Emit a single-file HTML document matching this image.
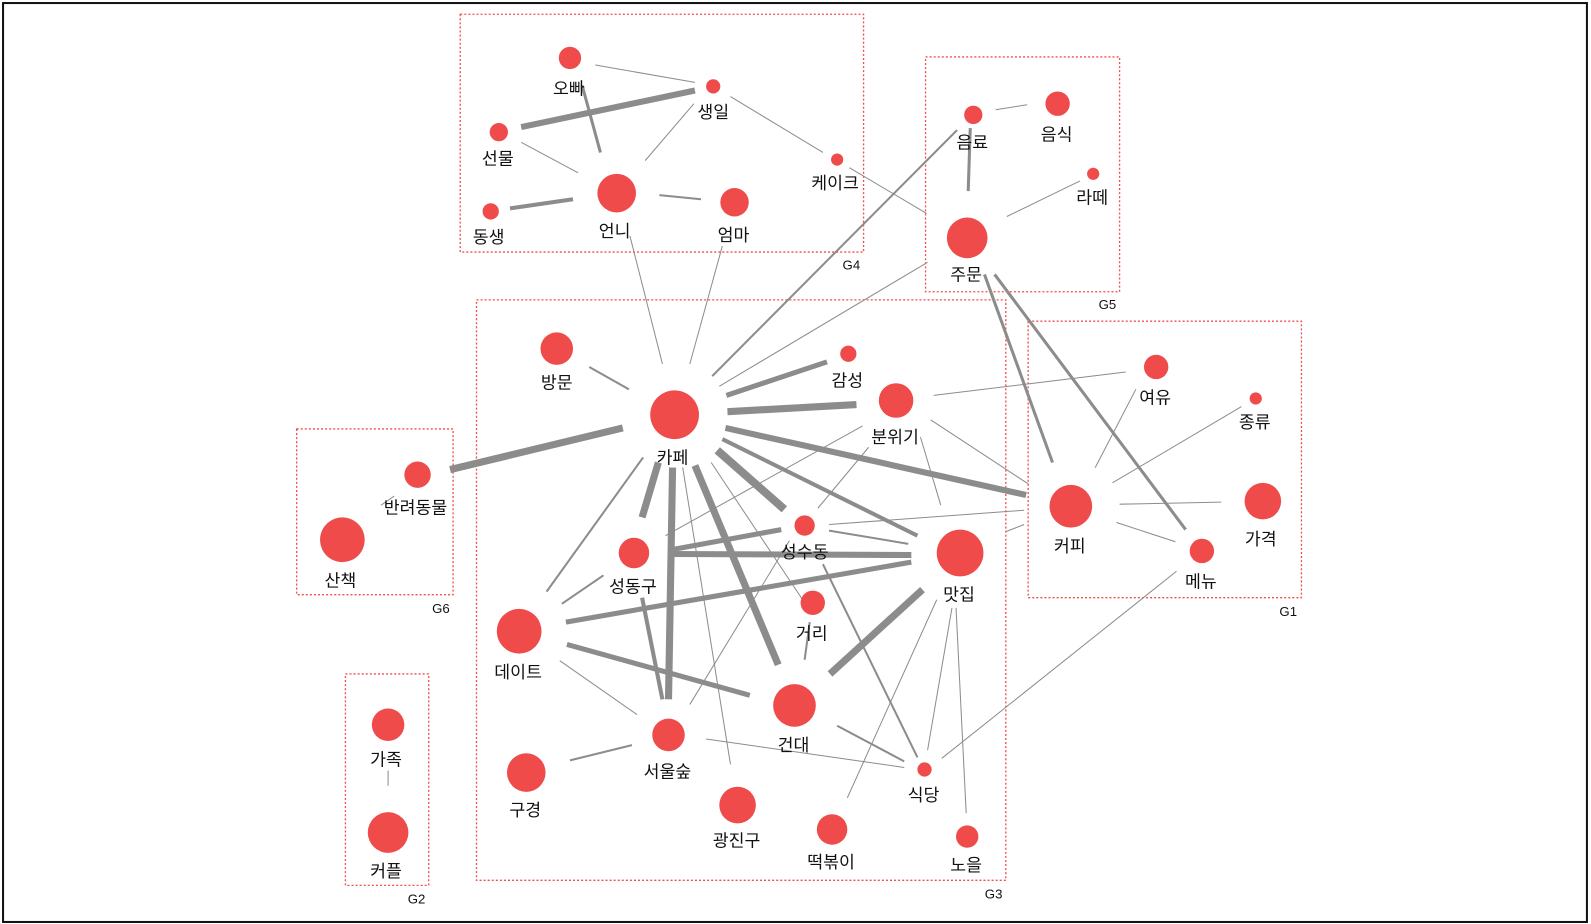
<!DOCTYPE html>
<html><head><meta charset="utf-8"><style>
html,body{margin:0;padding:0;background:#fff;}
svg{display:block;}
text{font-family:"Liberation Sans","Noto Sans CJK KR",sans-serif;font-size:17px;fill:#111;text-anchor:middle;}
.g{font-size:13px;}
</style></head><body>
<svg width="1591" height="924" viewBox="0 0 1566 909" preserveAspectRatio="none" xmlns="http://www.w3.org/2000/svg">
<rect x="3" y="3" width="1559" height="904" fill="#fff" stroke="#111" stroke-width="2"/>
<g fill="none" stroke="#f05050" stroke-width="1.3" stroke-dasharray="2,2">
<rect x="453" y="14" width="397" height="234"/>
<rect x="911" y="56" width="191" height="231"/>
<rect x="469" y="295" width="521" height="571"/>
<rect x="1012" y="316" width="269" height="272"/>
<rect x="292" y="422" width="154" height="163"/>
<rect x="340" y="663" width="82" height="208"/>
</g>
<text class="g" x="838" y="265">G4</text>
<text class="g" x="1090" y="304">G5</text>
<text class="g" x="978" y="884">G3</text>
<text class="g" x="1268" y="606">G1</text>
<text class="g" x="434" y="603">G6</text>
<text class="g" x="410" y="889">G2</text>
<g stroke="#8c8c8c" stroke-linecap="butt">
<line x1="586" y1="64" x2="684" y2="81" stroke-width="1"/>
<line x1="573" y1="84" x2="591" y2="150" stroke-width="3"/>
<line x1="513" y1="125" x2="684" y2="89" stroke-width="6"/>
<line x1="513" y1="140" x2="569" y2="170" stroke-width="1"/>
<line x1="683" y1="102" x2="635" y2="158" stroke-width="1"/>
<line x1="719" y1="95" x2="810" y2="150" stroke-width="1"/>
<line x1="502" y1="205" x2="564" y2="196" stroke-width="4"/>
<line x1="649" y1="192" x2="690" y2="196" stroke-width="2"/>
<line x1="836" y1="165" x2="912" y2="210" stroke-width="1"/>
<line x1="620" y1="232" x2="652" y2="358" stroke-width="1"/>
<line x1="711" y1="242" x2="679" y2="358" stroke-width="1"/>
<line x1="980" y1="108" x2="1011" y2="103" stroke-width="1"/>
<line x1="955" y1="126" x2="953" y2="188" stroke-width="3"/>
<line x1="1063" y1="178" x2="991" y2="213" stroke-width="1"/>
<line x1="942" y1="128" x2="701" y2="370" stroke-width="2"/>
<line x1="913" y1="258" x2="708" y2="380" stroke-width="1"/>
<line x1="969" y1="270" x2="1036" y2="455" stroke-width="3"/>
<line x1="979" y1="270" x2="1167" y2="521" stroke-width="3"/>
<line x1="580" y1="361" x2="619" y2="383" stroke-width="2"/>
<line x1="715" y1="389" x2="814" y2="356" stroke-width="5"/>
<line x1="716" y1="405" x2="843" y2="398" stroke-width="7"/>
<line x1="613" y1="421" x2="443" y2="462" stroke-width="7"/>
<line x1="714" y1="421" x2="1010" y2="487" stroke-width="6"/>
<line x1="711" y1="432" x2="903" y2="527" stroke-width="4"/>
<line x1="706" y1="443" x2="772" y2="501" stroke-width="8"/>
<line x1="648" y1="455" x2="632" y2="509" stroke-width="7"/>
<line x1="662" y1="460" x2="658" y2="688" stroke-width="7"/>
<line x1="684" y1="458" x2="766" y2="654" stroke-width="7"/>
<line x1="633" y1="450" x2="538" y2="582" stroke-width="2"/>
<line x1="672" y1="460" x2="719" y2="752" stroke-width="1"/>
<line x1="700" y1="455" x2="790" y2="590" stroke-width="1"/>
<line x1="919" y1="389" x2="1108" y2="366" stroke-width="1"/>
<line x1="849" y1="419" x2="655" y2="527" stroke-width="1"/>
<line x1="855" y1="440" x2="805" y2="500" stroke-width="1"/>
<line x1="916" y1="413" x2="1012" y2="476" stroke-width="1"/>
<line x1="906" y1="430" x2="926" y2="497" stroke-width="1"/>
<line x1="1118" y1="383" x2="1078" y2="460" stroke-width="1"/>
<line x1="1222" y1="400" x2="1095" y2="475" stroke-width="1"/>
<line x1="1102" y1="496" x2="1202" y2="494" stroke-width="1"/>
<line x1="1099" y1="514" x2="1157" y2="533" stroke-width="1"/>
<line x1="1008" y1="502" x2="816" y2="516" stroke-width="1"/>
<line x1="1008" y1="516" x2="990" y2="523" stroke-width="1"/>
<line x1="816" y1="522" x2="894" y2="535" stroke-width="2"/>
<line x1="769" y1="521" x2="660" y2="541" stroke-width="5"/>
<line x1="660" y1="545" x2="897" y2="546" stroke-width="6"/>
<line x1="557" y1="612" x2="897" y2="553" stroke-width="5"/>
<line x1="558" y1="634" x2="738" y2="684" stroke-width="5"/>
<line x1="551" y1="650" x2="627" y2="703" stroke-width="1"/>
<line x1="594" y1="566" x2="553" y2="594" stroke-width="2"/>
<line x1="632" y1="588" x2="652" y2="688" stroke-width="4"/>
<line x1="777" y1="532" x2="679" y2="693" stroke-width="1"/>
<line x1="810" y1="555" x2="903" y2="745" stroke-width="2"/>
<line x1="797" y1="612" x2="792" y2="649" stroke-width="2"/>
<line x1="908" y1="580" x2="817" y2="663" stroke-width="7"/>
<line x1="937" y1="598" x2="913" y2="738" stroke-width="1"/>
<line x1="922" y1="590" x2="834" y2="785" stroke-width="1"/>
<line x1="941" y1="598" x2="951" y2="800" stroke-width="1"/>
<line x1="824" y1="714" x2="890" y2="749" stroke-width="2"/>
<line x1="695" y1="727" x2="890" y2="755" stroke-width="1"/>
<line x1="561" y1="748" x2="622" y2="733" stroke-width="2"/>
<line x1="1158" y1="562" x2="927" y2="746" stroke-width="1"/>
<line x1="388" y1="488" x2="375" y2="497" stroke-width="1"/>
<line x1="382" y1="758" x2="382" y2="773" stroke-width="1"/>
</g>
<g fill="#ef4b4b">
<circle cx="561" cy="57" r="11"/><circle cx="702" cy="85" r="7"/><circle cx="491" cy="130" r="9"/>
<circle cx="824" cy="157" r="6"/><circle cx="483" cy="208" r="8"/><circle cx="607" cy="190" r="19"/>
<circle cx="723" cy="199" r="14"/><circle cx="958" cy="113" r="9"/><circle cx="1041" cy="102" r="12"/>
<circle cx="1076" cy="171" r="6"/><circle cx="952" cy="234" r="20"/><circle cx="548" cy="343" r="16"/>
<circle cx="664" cy="408" r="24"/><circle cx="835" cy="348" r="8"/><circle cx="882" cy="394" r="17"/>
<circle cx="1138" cy="361" r="12"/><circle cx="1236" cy="392" r="6"/><circle cx="411" cy="467" r="13"/>
<circle cx="337" cy="531" r="22"/><circle cx="1054" cy="498" r="21"/><circle cx="1243" cy="493" r="18"/>
<circle cx="792" cy="517" r="10"/><circle cx="624" cy="544" r="15"/><circle cx="945" cy="544" r="23"/>
<circle cx="1183" cy="542" r="12"/><circle cx="800" cy="593" r="12"/><circle cx="511" cy="621" r="22"/>
<circle cx="382" cy="713" r="16"/><circle cx="782" cy="694" r="21"/><circle cx="658" cy="723" r="16"/>
<circle cx="910" cy="757" r="7"/><circle cx="518" cy="760" r="19"/><circle cx="726" cy="792" r="18"/>
<circle cx="382" cy="819" r="20"/><circle cx="819" cy="816" r="15"/><circle cx="952" cy="823" r="11"/>
</g>
<g>
<text x="560" y="93">오빠</text><text x="702" y="116">생일</text><text x="490" y="162">선물</text>
<text x="822" y="186">케이크</text><text x="481" y="239">동생</text><text x="605" y="233">언니</text>
<text x="722" y="237">엄마</text><text x="957" y="146">음료</text><text x="1040" y="138">음식</text>
<text x="1075" y="200">라떼</text><text x="951" y="276">주문</text><text x="548" y="382">방문</text>
<text x="662" y="456">카페</text><text x="834" y="380">감성</text><text x="881" y="436">분위기</text>
<text x="1137" y="397">여유</text><text x="1235" y="421">종류</text><text x="409" y="505">반려동물</text>
<text x="335" y="577">산책</text><text x="1053" y="543">커피</text><text x="1241" y="536">가격</text>
<text x="792" y="549">성수동</text><text x="623" y="583">성동구</text><text x="944" y="591">맛집</text>
<text x="1182" y="578">메뉴</text><text x="799" y="629">거리</text><text x="510" y="667">데이트</text>
<text x="380" y="753">가족</text><text x="781" y="739">건대</text><text x="657" y="765">서울숲</text>
<text x="909" y="788">식당</text><text x="517" y="803">구경</text><text x="725" y="833">광진구</text>
<text x="380" y="863">커플</text><text x="818" y="854">떡볶이</text><text x="951" y="857">노을</text>
</g>
</svg>
</body></html>
